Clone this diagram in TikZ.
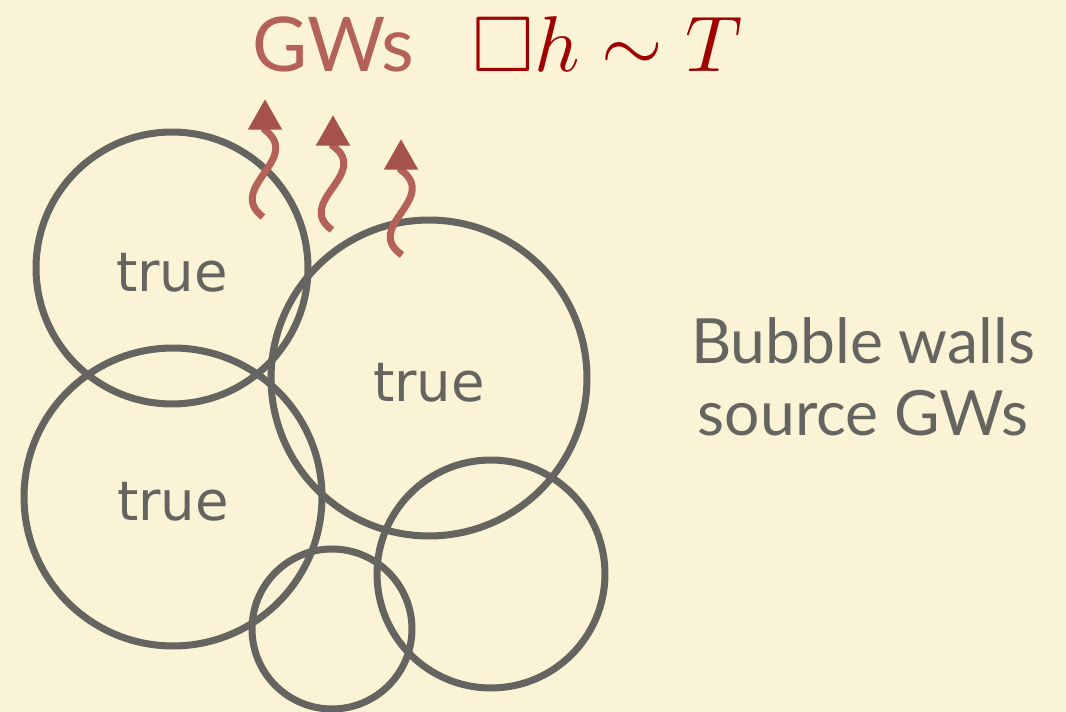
\documentclass[tikz,border=0pt]{standalone}
\usepackage{amsmath}
\usepackage{amssymb}
\usepackage{graphicx}
\usepackage{fontspec}
\setmainfont{Lato}
\newfontfamily\bubblefont{DejaVu Sans}
\usetikzlibrary{arrows.meta,positioning}

\definecolor{paper}{RGB}{251,243,214}
\definecolor{wall}{RGB}{102,100,96}
\definecolor{gwred}{RGB}{180,98,88}
\definecolor{gwhead}{RGB}{166,82,76}
\definecolor{eqred}{RGB}{160,0,0}

\begin{document}
\begin{tikzpicture}[
    x=0.02cm, y=-0.02cm,
    bubble/.style={circle, draw=wall, line width=4pt, minimum size=#1, inner sep=0pt, text=wall, text height=27pt, text depth=0pt, font=\bubblefont\fontsize{31}{36}\selectfont},
    wave/.style={-{Triangle[length=17.5pt, width=18.5pt, color=gwhead]}, draw=gwred, line width=4pt},
    title/.style={inner sep=0pt, text=gwred, font=\fontsize{43}{50}\selectfont},
    formula/.style={inner sep=0pt, text=eqred, font=\fontsize{10}{12}\selectfont},
    caption/.style={inner sep=0pt, align=center, text=wall, font=\fontsize{35.5}{41}\selectfont}
]
\useasboundingbox (0,0) rectangle (1066,712);
\fill[paper] (0,0) rectangle (1066,712);

% bubbles of true vacuum
\node[bubble=5.44cm] (b1) at (172,268) {true};
\node[bubble=6.32cm] (b2) at (429,378) {true};
\node[bubble=5.96cm] (b3) at (173,497) {true};
\node[bubble=4.56cm] (b4) at (491,574) {};
\node[bubble=3.2cm] (b5) at (332,629) {};

% emitted waves
\coordinate (t1) at (263,217);
\coordinate (h1) at (265,99);
\coordinate (t2) at (332,230);
\coordinate (h2) at (333,115);
\coordinate (t3) at (402,255);
\coordinate (h3) at (401,139);
\draw[wave] (t1) .. controls +(-38,-29) and +(38,29) .. ([yshift=-0.62cm]h1) -- (h1);
\draw[wave] (t2) .. controls +(-38,-28) and +(38,28) .. ([yshift=-0.62cm]h2) -- (h2);
\draw[wave] (t3) .. controls +(-40,-28) and +(39,29) .. ([yshift=-0.62cm]h3) -- (h3);

\node[title, anchor=base] (gws) at (333,72) {GWs};
\node[formula, base right=1.16cm of gws] (eq) {\scalebox{4.5}{$\Box h\sim T$}};

\node[caption] (walls) at (863,377) {Bubble walls\\source GWs};
\end{tikzpicture}
\end{document}
